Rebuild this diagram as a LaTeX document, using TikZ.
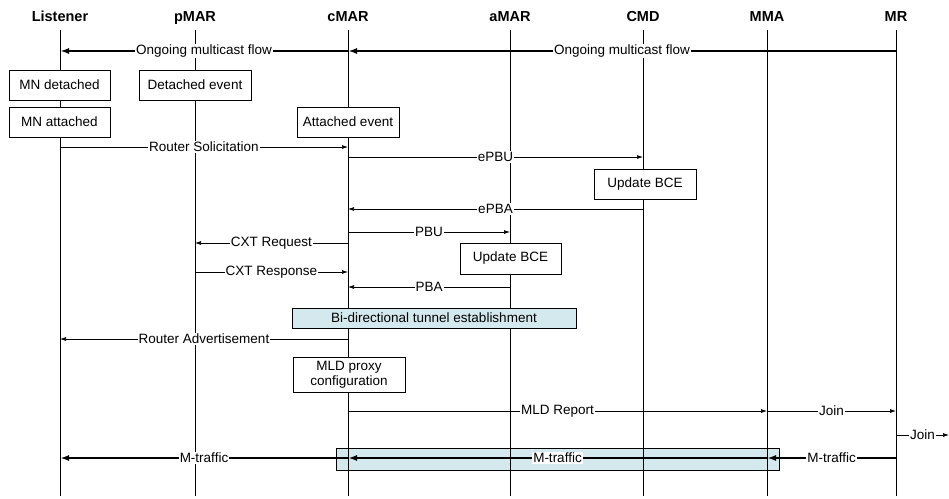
\documentclass[tikz,border=0pt]{standalone}
\usepackage{fontspec}
\setmainfont{Liberation Sans}
\usetikzlibrary{arrows.meta,positioning}
\definecolor{tunnelblue}{RGB}{212,233,238}
\tikzset{
  actor/.style={font=\fontsize{14.5}{16}\selectfont\bfseries, inner sep=0pt, anchor=base},
  lifeline/.style={line width=0.9pt},
  eventbox/.style={rectangle, draw=black, line width=0.8pt, fill=white,
                   align=center, inner sep=2pt,
                   font=\fontsize{13.5}{15.5}\selectfont},
  tunnelbox/.style={eventbox, fill=tunnelblue},
  msg/.style={-{Latex[length=6pt,width=4pt]}, line width=0.7pt},
  flow/.style={-{Latex[length=9pt,width=6pt]}, line width=1.8pt},
  msglabel/.style={fill=white, inner sep=1pt, font=\fontsize{13.5}{15.5}\selectfont},
}

\begin{document}
\begin{tikzpicture}[
    x=1pt,
    y=-1pt,
  ]
    \useasboundingbox (0,0) rectangle (949,498);

    % Shaded M-traffic band sits behind the lifelines
    \node[tunnelbox, minimum width=443pt, minimum height=22pt] (mband) at (557.5,459) {};

    % Actors
    \node[actor] (listener) at (60,21)  {Listener};
    \node[actor] (pmar)     at (195,21) {pMAR};
    \node[actor] (cmar)     at (348,21) {cMAR};
    \node[actor] (amar)     at (510,21) {aMAR};
    \node[actor] (cmd)      at (643,21) {CMD};
    \node[actor] (mma)      at (767,21) {MMA};
    \node[actor] (mr)       at (896,21) {MR};

    % Lifelines
    \coordinate (top)    at (0,30);
    \coordinate (bottom) at (0,496);
    \draw[lifeline] (listener |- top) -- (listener |- bottom);
    \draw[lifeline] (pmar |- top)     -- (pmar |- bottom);
    \draw[lifeline] (cmar |- top)     -- (cmar |- bottom);
    \draw[lifeline] (amar |- top)     -- (amar |- bottom);
    \draw[lifeline] (cmd |- top)      -- (cmd |- bottom);
    \draw[lifeline] (mma |- top)      -- (mma |- bottom);
    \draw[lifeline] (mr |- top)       -- (mr |- bottom);

    % Event boxes
    \node[eventbox, minimum width=101pt, minimum height=30pt] (mndet)   at (59.5,85)   {MN detached};
    \node[eventbox, minimum width=112pt, minimum height=30pt] (detev)   at (195,85)    {Detached event};
    \node[eventbox, minimum width=101pt, minimum height=30pt] (mnatt)   at (59.5,122)  {MN attached};
    \node[eventbox, minimum width=102pt, minimum height=30pt] (attev)   at (348,122)   {Attached event};
    \node[eventbox, minimum width=102pt, minimum height=30pt] (bcecmd)  at (645,184)   {Update BCE};
    \node[eventbox, minimum width=101pt, minimum height=31pt] (bceamar) at (510.5,258.5) {Update BCE};
    \node[tunnelbox, minimum width=284pt, minimum height=20pt] (tunnel) at (434,318)   {Bi-directional tunnel establishment};
    \node[eventbox, minimum width=112pt, minimum height=35pt] (mldproxy) at (349,374.5) {MLD proxy\\configuration};

    % Message rows
    \coordinate (flow)  at (0,51);
    \coordinate (rs)    at (0,147);
    \coordinate (epbu)  at (0,157);
    \coordinate (epba)  at (0,209);
    \coordinate (pbu)   at (0,232);
    \coordinate (cxtq)  at (0,243);
    \coordinate (cxtr)  at (0,272);
    \coordinate (pba)   at (0,287);
    \coordinate (ra)    at (0,339);
    \coordinate (mld)   at (0,411);
    \coordinate (join)  at (0,435);
    \coordinate (mtr)   at (0,458);
    \coordinate (exit)  at (949,435);

    % Ongoing multicast flow
    \draw[flow] (mr |- flow)   -- node[msglabel] {Ongoing multicast flow} (cmar |- flow);
    \draw[flow] (cmar |- flow) -- node[msglabel] {Ongoing multicast flow} (listener |- flow);

    % Handover signalling
    \draw[msg] (listener |- rs) -- node[msglabel] {Router Solicitation} (cmar |- rs);
    \draw[msg] (cmar |- epbu)   -- node[msglabel] {ePBU} (cmd |- epbu);
    \draw[msg] (cmd |- epba)    -- node[msglabel] {ePBA} (cmar |- epba);
    \draw[msg] (cmar |- pbu)    -- node[msglabel] {PBU} (amar |- pbu);
    \draw[msg] (cmar |- cxtq)   -- node[msglabel] {CXT Request} (pmar |- cxtq);
    \draw[msg] (pmar |- cxtr)   -- node[msglabel] {CXT Response} (cmar |- cxtr);
    \draw[msg] (amar |- pba)    -- node[msglabel] {PBA} (cmar |- pba);
    \draw[msg] (cmar |- ra)     -- node[msglabel] {Router Advertisement} (listener |- ra);

    % Subscription
    \draw[msg] (cmar |- mld)    -- node[msglabel] {MLD Report} (mma |- mld);
    \draw[msg] (mma |- mld)     -- node[msglabel] {Join} (mr |- mld);
    \draw[msg] (mr |- join)     -- node[msglabel] {Join} (exit);

    % Multicast traffic
    \draw[flow] (mr |- mtr)   -- node[msglabel] {M-traffic} (mma |- mtr);
    \draw[flow] (mma |- mtr)  -- node[msglabel] {M-traffic} (cmar |- mtr);
    \draw[flow] (cmar |- mtr) -- node[msglabel] {M-traffic} (listener |- mtr);

  \end{tikzpicture}
\end{document}
